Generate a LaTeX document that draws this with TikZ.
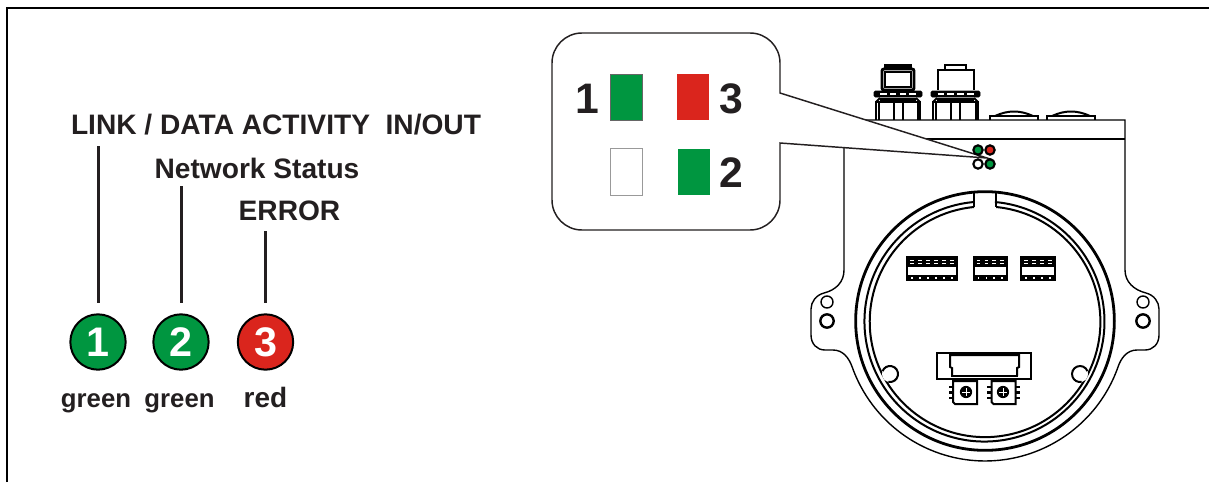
\documentclass[tikz,border=0pt]{standalone}
\usepackage{fontspec}
\setmainfont{Liberation Sans}
\definecolor{ledgreen}{HTML}{009640}
\definecolor{ledred}{HTML}{DA251D}
\definecolor{ink}{HTML}{231F20}
\tikzset{
  lab/.style={font=\fontsize{21.1}{24}\bfseries\selectfont,text=ink,inner sep=0pt,anchor=base},
  sublab/.style={font=\fontsize{19.3}{22}\bfseries\selectfont,text=ink,inner sep=0pt,anchor=base},
  redlab/.style={font=\fontsize{21}{24}\bfseries\selectfont,text=ink,inner sep=0pt,anchor=base},
  bignum/.style={font=\fontsize{32}{36}\bfseries\selectfont,text=ink,inner sep=0pt,anchor=base},
  ledc/.style={circle,draw=black,line width=1.5pt,minimum size=41.5pt,inner sep=0pt,text=white,font=\fontsize{31}{33}\bfseries\selectfont},
  sq/.style={minimum width=24pt,minimum height=34.8pt,inner sep=0pt,anchor=center},
  stem/.style={draw=ink,line width=1.7pt},
  thin line/.style={draw=black,line width=1.05pt},
  mid line/.style={draw=black,line width=1.5pt},
  thick line/.style={draw=black,line width=2.2pt},
  dot/.style={circle,draw=black,line width=1.6pt,minimum size=7pt,inner sep=0pt},
}
\newcommand{\connbase}[2]{% x-left, x-right
  \draw[mid line] (#1,120) -- (#1,102) -- (#2,102) -- (#2,120);
  \draw[mid line] ({#1+2.5},120) -- ({#1+2.5},102) ({#2-2.5},120) -- ({#2-2.5},102);
  \draw[mid line] ({#1+18},120) -- ({#1+18},102) ({#1+27},120) -- ({#1+27},102);
  \draw[line width=2.4pt] ({#1+4},99.5) -- ({#2-4},99.5);
  \draw[mid line] ({#1},102) -- ({#1+4},98) ({#2},102) -- ({#2-4},98);
  \draw[fill=black,rounded corners=1pt,line width=.5pt] ({#1-2},91) rectangle ({#2+2},97);
  \foreach \k in {0.1,0.32,0.54,0.76}
    \draw[white,line width=1.2pt] ({#1+(#2-#1)*\k},94) -- ({#1+(#2-#1)*(\k+.14)},94);
}
\newcommand{\dome}[2]{%
  \draw[mid line] (#1,120) -- (#1,116) -- (#2,116) -- (#2,120);
  \draw[mid line] ({#1+5},116) .. controls ({#1+18},110) and ({#2-18},110) .. ({#2-5},116);
}
\newcommand{\termblock}[3]{% x-left, x-right, segments
  \fill[black] (#1,256) rectangle (#2,281);
  \fill[white] ({#1+2},267) rectangle ({#2-2},275);
  \pgfmathsetmacro{\segw}{(#2-#1-4)/#3}
  \foreach \k in {1,...,#3} {
    \draw[white,line width=.6pt] ({#1+2+(\k-.72)*\segw},260.5) -- ({#1+2+(\k-.28)*\segw},260.5);
    \draw[white,line width=.6pt] ({#1+2+(\k-.72)*\segw},263.5) -- ({#1+2+(\k-.28)*\segw},263.5);
    \fill[white] ({#1+2+(\k-.6)*\segw},277) rectangle ({#1+2+(\k-.4)*\segw},279);
  }
}
\newcommand{\pot}[2]{% x-left, centre x
  \draw[mid line,fill=white] (#1,381) -- ({#1+24},381) -- ({#1+24},404) -- ({#1+2},404) -- (#1,402) -- cycle;
  \fill[black] (#2,392) circle[radius=4.6pt];
  \draw[white,line width=.5pt] ({#2-4},392) -- ({#2+4},392) (#2,388) -- (#2,396);
}
\newcommand{\pins}[1]{%
  \foreach \yy in {387,392.5,398} \draw[line width=1.7pt] (#1,\yy) -- ({#1+4},\yy);
}
\begin{document}
\begin{tikzpicture}[x=0.75pt,y=-0.75pt]
\useasboundingbox (0,0) rectangle (1209,482);
% frame
\draw[line width=1pt,black] (7,482) -- (7,8) -- (1209,8);

% left legend
\node[lab] (tlink) at (276,134.5) {LINK / DATA ACTIVITY\ \ IN/OUT};
\node[lab] (tnet) at (257,178) {Network Status};
\node[lab] (terr) at (289.5,220.5) {ERROR};
\node[ledc,fill=ledgreen] (l1) at (98,342) {1};
\node[ledc,fill=ledgreen] (l2) at (181,342) {2};
\node[ledc,fill=ledred] (l3) at (265.5,342) {3};
\coordinate (s1) at (98.5,146);
\coordinate (s2) at (181.5,186);
\coordinate (s3) at (265.5,231);
\coordinate (e1) at (98.5,303);
\coordinate (e2) at (181.5,303);
\coordinate (e3) at (265.5,303);
\draw[stem] (s1) -- (e1);
\draw[stem] (s2) -- (e2);
\draw[stem] (s3) -- (e3);
\node[sublab] (g1) at (96,407) {green};
\node[sublab] (g2) at (179.5,407) {green};
\node[redlab] (g3) at (265.5,407) {red};

% housing
\draw[thin line]
  (844,120) -- (1125,120) -- (1125,270)
  .. controls (1125,282) and (1134,290) .. (1146,293)
  .. controls (1154,295) and (1159,302) .. (1159,309)
  -- (1159,335)
  .. controls (1159,344) and (1153,350) .. (1145,350)
  -- (1137,350)
  .. controls (1127,350) and (1121,358) .. (1118,367)
  arc[start angle=340.5,delta angle=-141,radius=105.75pt]
  .. controls (849,358) and (843,350) .. (833,350)
  -- (825,350)
  .. controls (817,350) and (811,344) .. (811,335)
  -- (811,309)
  .. controls (811,302) and (816,295) .. (824,293)
  .. controls (836,290) and (844,282) .. (844,270) -- cycle;
\draw[mid line] (844,139) -- (1125,139);
% ear holes
\foreach \xx in {827,1143} {
  \draw[thin line] (\xx,302) circle[radius=4.5pt];
  \draw[line width=1.8pt] (\xx,321) circle[radius=5pt];
}
% connectors
\connbase{876}{920}
\connbase{933}{978}
\draw[thick line,rounded corners=1.5pt,fill=white] (882,69) rectangle (914,90);
\draw[mid line] (885,72) rectangle (911,87);
\draw[line width=2.4pt] (884,66) -- (912,66);
\draw[mid line] (938,90) -- (938,70) -- (974,70) -- (974,90);
\draw[mid line] (945,70) -- (945,65) -- (966,65) -- (966,70);
\dome{990}{1038}
\dome{1047}{1095}

% enclosure rings
\draw[line width=2.1pt] (985,321) circle[radius=97pt];
\draw[mid line] (974,192) -- (974,207);
\draw[mid line] (996,192) -- (996,207);
\draw[mid line] (974,202) arc[start angle=95,delta angle=350,radius=90pt];
\draw[mid line] (974,207) arc[start angle=95.5,delta angle=349,radius=86.5pt];
% bumps
\fill[white] (890,374) circle[radius=6pt];
\fill[white] (1080,374) circle[radius=6pt];
\draw[mid line] (890,374) ++(259:6pt) arc[start angle=259,delta angle=260,radius=6pt];
\draw[mid line] (1080,374) ++(21:6pt) arc[start angle=21,delta angle=260,radius=6pt];

% terminal blocks
\termblock{906}{958}{6}
\termblock{972.5}{1008}{4}
\termblock{1020}{1056}{4}

% lower component
\draw[line width=1.6pt] (937,353) rectangle (1031,379);
\draw[mid line] (952,376) -- (952,368) -- (950,367) -- (950,355) -- (1019,355) -- (1019,367) -- (1017,368) -- (1017,376);
\draw[line width=2.2pt] (951,376) -- (1018,376);
\pins{949}\pins{987}\pins{1016}
\pot{953}{966}
\pot{991.5}{1003}

% callout
\draw[line width=1.1pt,ink,fill=white]
  (780,93) -- (987,158) -- (780,143) -- (780,200)
  arc[start angle=0,end angle=-90,radius=22.5pt] -- (582,230)
  arc[start angle=270,end angle=180,radius=22.5pt] -- (552,63)
  arc[start angle=180,end angle=90,radius=22.5pt] -- (750,33)
  arc[start angle=90,end angle=0,radius=22.5pt] -- cycle;
\node[sq,fill=ledgreen,draw=black!60,line width=.4pt] (q1) at (626,97) {};
\node[sq,fill=ledred] (q3) at (693,97) {};
\node[sq,draw=black!40,line width=.6pt,fill=white] (q0) at (626,172) {};
\node[sq,fill=ledgreen] (q2) at (694,172) {};
\node[bignum] (n1) at (587,113) {1};
\node[bignum] (n3) at (731,113) {3};
\node[bignum] (n2) at (731,187.5) {2};

% board leds
\node[dot,fill=ledgreen] (d1) at (978,150) {};
\node[dot,fill=ledred] (d3) at (990,150) {};
\node[dot,fill=white] (d0) at (978,164) {};
\node[dot,fill=ledgreen] (d2) at (990,164) {};
\end{tikzpicture}
\end{document}
